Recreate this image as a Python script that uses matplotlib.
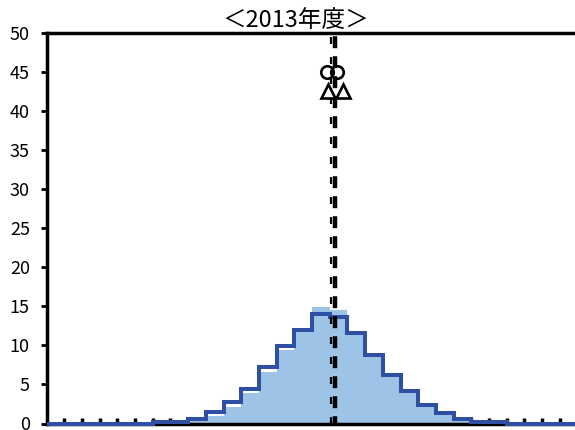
import numpy as np
import matplotlib
matplotlib.use("Agg")
import matplotlib.pyplot as plt

plt.rcParams['font.family'] = ['Noto Sans CJK JP', 'DejaVu Sans']
plt.rcParams['lines.scale_dashes'] = False

# 分布（階級ごとの構成比, %）
bin_edges = np.arange(0, 31)
share_line = [0, 0, 0, 0, 0, 0, 0.15, 0.2, 0.6, 1.5,
              2.8, 4.4, 7.2, 9.9, 12.0, 14.0, 13.6, 11.6, 8.7, 6.2,
              4.1, 2.4, 1.3, 0.6, 0.2, 0.2, 0, 0, 0, 0]
share_fill = [0, 0, 0, 0, 0, 0, 0.05, 0.1, 0.3, 0.9,
              2.1, 3.9, 6.6, 9.4, 12.0, 14.9, 14.5, 11.8, 9.0, 6.3,
              4.2, 2.6, 1.5, 0.7, 0.2, 0.1, 0, 0, 0, 0]

# 平均値の位置
mean_lines = [16.07, 16.28]
circle_x = [15.85, 16.4]
circle_y = [45, 45]
triangle_x = [15.9, 16.75]
triangle_y = [42.5, 42.5]

fig = plt.figure(figsize=(5.75, 4.3), dpi=100)
ax = fig.add_axes([46.5 / 575, 6.5 / 430, 531 / 575, 391 / 430])

ax.stairs(share_fill, bin_edges, fill=True, color='#9DC3E6', zorder=2)
ax.stairs(share_line, bin_edges, color='#2F50A2', lw=2.9, zorder=3,
          clip_on=False)

# 平均線（破線2本）
ax.axvline(mean_lines[0], color='black', lw=1.6, zorder=4,
           linestyle=(0, (5, 9.4)))
ax.axvline(mean_lines[1], color='black', lw=3.2, zorder=4,
           linestyle=(3, (8.6, 5.8)))

ax.plot(circle_x, circle_y, 'o', ms=9, mfc='none', mec='black', mew=1.9,
        ls='none', zorder=5)
ax.plot(triangle_x, triangle_y, '^', ms=10, mfc='white', mec='black', mew=1.9,
        ls='none', zorder=5)

ax.set_xlim(0, 30)
ax.set_ylim(0, 50)
ax.set_yticks(np.arange(0, 51, 5))
ax.set_xticks(np.arange(1, 30))
ax.tick_params(axis='y', direction='out', length=4, width=2, pad=8,
               labelsize=13)
ax.tick_params(axis='x', direction='in', length=4, width=2.5,
               labelbottom=False)
for side in ['left', 'top', 'bottom']:
    ax.spines[side].set_linewidth(2.5)
ax.spines['right'].set_visible(False)

fig.text(296 / 575, 0.925, '＜2013年度＞', ha='center', va='bottom',
         fontsize=17)

fig.savefig('out.png', dpi=100)
